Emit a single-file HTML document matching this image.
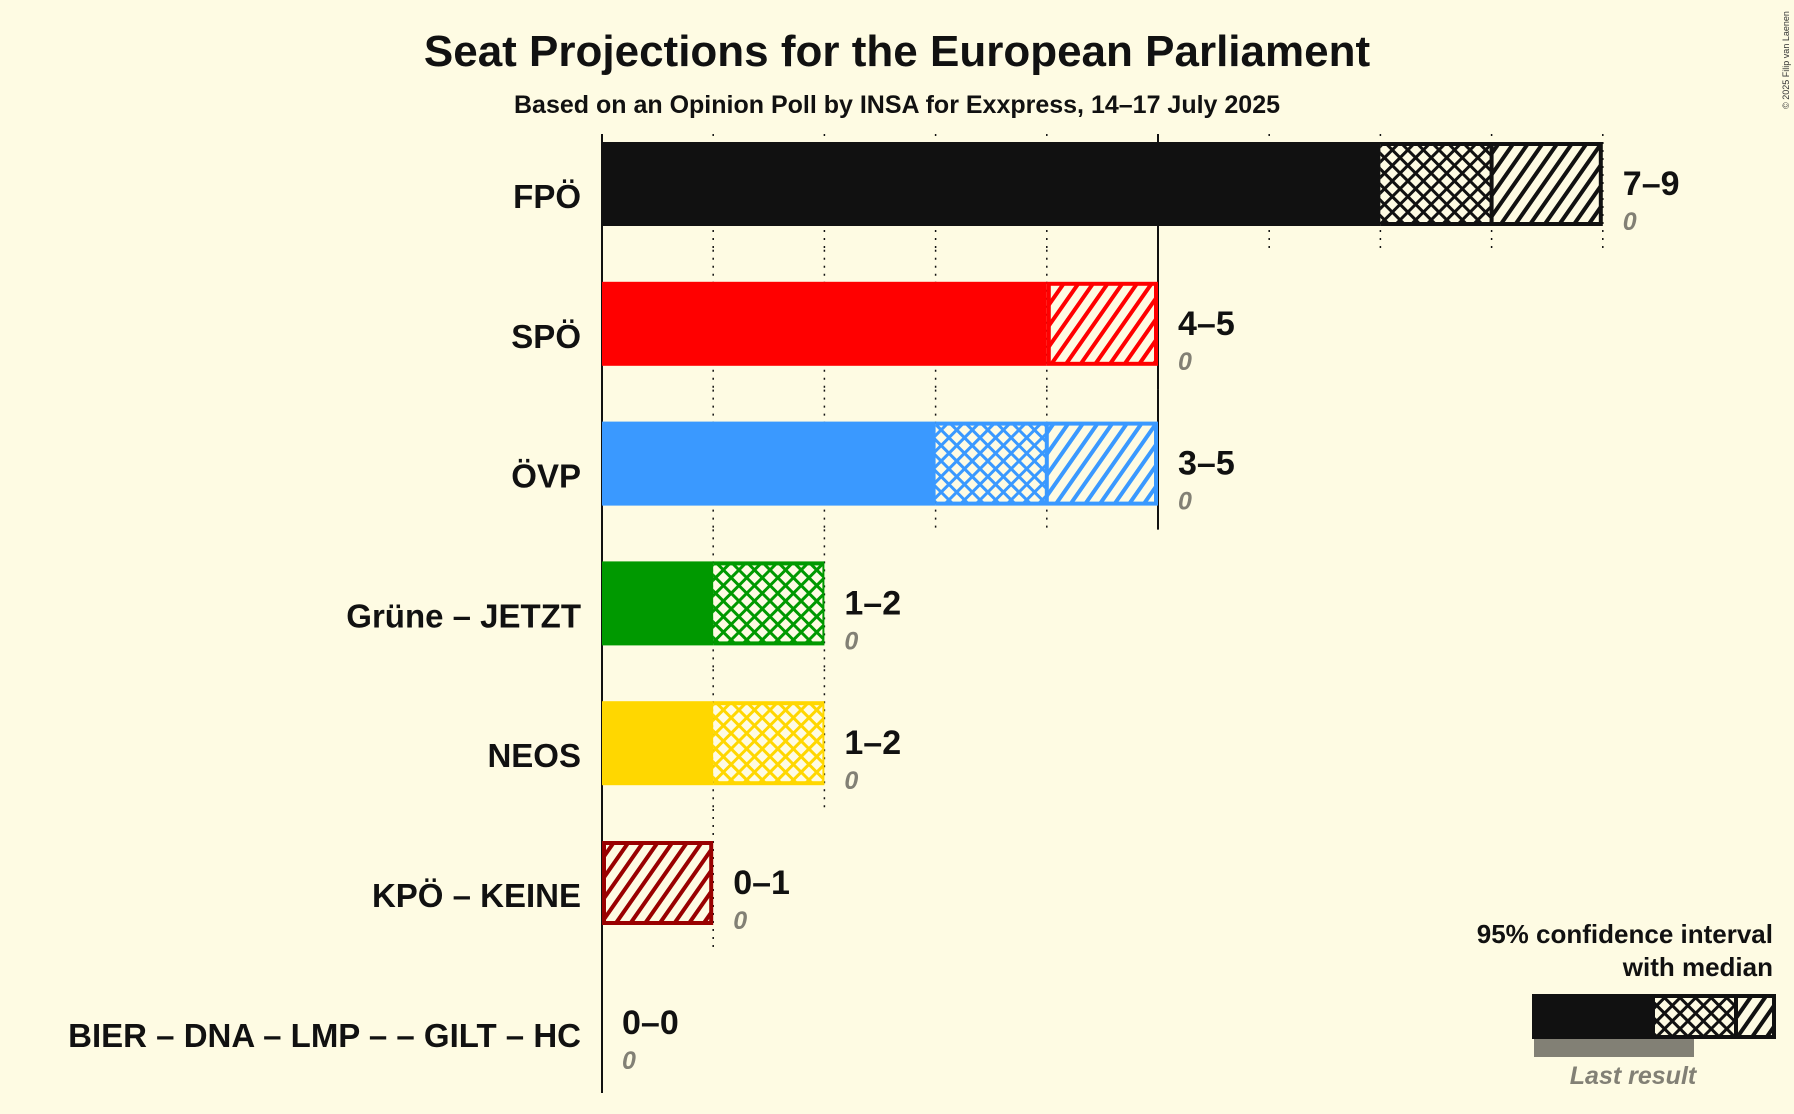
<!DOCTYPE html>
<html><head><meta charset="utf-8">
<style>
html,body{margin:0;padding:0;background:#fefbe3;}
svg{display:block;font-family:"Liberation Sans",sans-serif;}
</style></head>
<body>
<svg id="chart" width="1794" height="1114" viewBox="0 0 1794 1114" xmlns="http://www.w3.org/2000/svg">
<rect width="1794" height="1114" fill="#fefbe3"/>
<text x="897" y="66" text-anchor="middle" font-size="44" font-weight="bold" fill="#111">Seat Projections for the European Parliament</text>
<text x="897" y="113" text-anchor="middle" font-size="25" font-weight="bold" fill="#111">Based on an Opinion Poll by INSA for Exxpress, 14–17 July 2025</text>
<text transform="translate(1789,60) rotate(-90)" text-anchor="middle" font-size="9" fill="#333">© 2025 Filip van Laenen</text>
<g id="grid"></g>
<g id="bars"></g>
<g id="legend">
<text x="1773" y="943" text-anchor="end" font-size="26" font-weight="bold" fill="#111">95% confidence interval</text>
<text x="1773" y="976" text-anchor="end" font-size="26" font-weight="bold" fill="#111">with median</text>
<rect x="1534" y="1039" width="160" height="18" fill="#828075"/>
<rect x="1532" y="994" width="121" height="45" fill="#111"/>
<rect x="1653" y="996" width="83" height="41" fill="url(#cross-111)" stroke="#111" stroke-width="4"/>
<rect x="1736" y="996" width="38" height="41" fill="url(#diag-111)" stroke="#111" stroke-width="4"/>
<text x="1633" y="1084" text-anchor="middle" font-size="25" font-style="italic" font-weight="bold" fill="#828075">Last result</text>
</g>
<defs id="defs"></defs>
</svg>
<script>
const parties = ["FPÖ","SPÖ","ÖVP","Grüne – JETZT","NEOS","KPÖ – KEINE","BIER – DNA – LMP – – GILT – HC"];
const lows = [7,4,3,1,1,0,0];
const medians = [8,4,4,2,2,0,0];
const highs = [9,5,5,2,2,1,0];
const lastResults = [0,0,0,0,0,0,0];
const colors = ["#111111","#ff0000","#3a99ff","#009900","#ffd700","#990000","#888888"];

const NS="http://www.w3.org/2000/svg";
const x0=602, unit=111.2;
const xs=v=>x0+v*unit;
const yc=i=>184+i*139.8;
const bh=84;
function el(t,a,p){const e=document.createElementNS(NS,t);for(const k in a)e.setAttribute(k,a[k]);p.appendChild(e);return e;}
const defs=document.getElementById('defs');
function pats(c){
  const id=c.replace('#','');
  if(!document.getElementById('diag-'+id)){
    const p=el('pattern',{id:'diag-'+id,width:12,height:12,patternUnits:'userSpaceOnUse',patternTransform:'rotate(35)'},defs);
    el('rect',{width:12,height:12,fill:'#fefbe3'},p);
    el('rect',{width:4,height:12,fill:c},p);
    const q=el('pattern',{id:'cross-'+id,width:11,height:11,patternUnits:'userSpaceOnUse',patternTransform:'rotate(45)'},defs);
    el('rect',{width:11,height:11,fill:'#fefbe3'},q);
    el('rect',{width:3,height:11,fill:c},q);
    el('rect',{width:11,height:3,fill:c},q);
  }
  return id;
}
pats('#111');
const grid=document.getElementById('grid'), bars=document.getElementById('bars');
el('line',{x1:x0,y1:134,x2:x0,y2:1093,stroke:'#111','stroke-width':2},grid);
parties.forEach((p,i)=>{
  const c=yc(i), top=c-bh/2;
  for(let s=1;s<=highs[i];s++){
    const solid=s%5===0;
    const ln=el('line',{x1:xs(s),y1:i===0?c-50:c-74,x2:xs(s),y2:c+66,stroke:'#111','stroke-width':solid?2:1.5,'stroke-dasharray':solid?'none':'2,6'},grid);
    
    
  }
  const id=pats(colors[i]);
  const g=el('g',{},bars);
  
  
  if(lows[i]>0){el('rect',{x:xs(0),y:top,width:xs(lows[i])-xs(0),height:bh,fill:colors[i]},g);}
  if(highs[i]>lows[i]){
    el('rect',{x:xs(lows[i]),y:top,width:xs(highs[i])-xs(lows[i]),height:bh,fill:colors[i]},g);
    if(medians[i]>lows[i]) el('rect',{x:xs(lows[i]),y:top+4,width:xs(medians[i])-xs(lows[i])-2,height:bh-8,fill:'url(#cross-'+id+')'},g);
    if(highs[i]>medians[i]) el('rect',{x:xs(medians[i])+(medians[i]>lows[i]?2:4),y:top+4,width:xs(highs[i])-xs(medians[i])-(medians[i]>lows[i]?6:8),height:bh-8,fill:'url(#diag-'+id+')'},g);
  }
  const lab=el('text',{x:581,y:c+24,'text-anchor':'end','font-size':33,'font-weight':'bold',fill:'#111'},bars);
  lab.textContent=p;
  
  
  const ex=xs(highs[i])+20;
  const r=el('text',{x:ex,y:c+11,'font-size':34,'font-weight':'bold',fill:'#111'},bars);
  r.textContent=lows[i]+'–'+highs[i];
  
  
  const l=el('text',{x:ex,y:c+46,'font-size':25,'font-style':'italic','font-weight':'bold',fill:'#828075'},bars);
  l.textContent=lastResults[i];
  
  
});
</script>
</body></html>
